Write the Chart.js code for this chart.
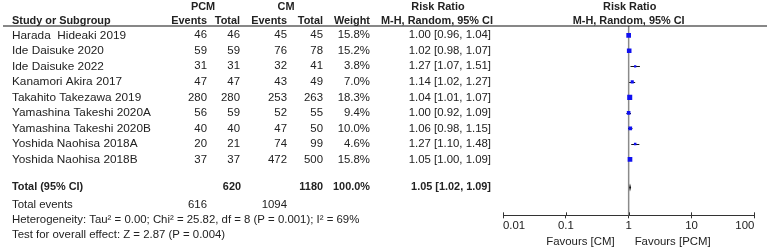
<!DOCTYPE html>
<html>
<head>
<meta charset="utf-8">
<script src="https://cdn.jsdelivr.net/npm/chart.js@4/dist/chart.umd.min.js"></script>
<style>
html,body{margin:0;padding:0;background:#fff;}
#wrap{position:relative;width:767px;height:250px;}
</style>
</head>
<body>
<div id="wrap"><canvas id="c"></canvas></div>
<script>
const studies = ["Harada  Hideaki 2019","Ide Daisuke 2020","Ide Daisuke 2022","Kanamori Akira 2017","Takahito Takezawa 2019","Yamashina Takeshi 2020A","Yamashina Takeshi 2020B","Yoshida Naohisa 2018A","Yoshida Naohisa 2018B"];
const pcmEvents = [46,59,31,47,280,56,40,20,37];
const pcmTotal  = [46,59,31,47,280,59,40,21,37];
const cmEvents  = [45,76,32,43,253,52,47,74,472];
const cmTotal   = [45,78,41,49,263,55,50,99,500];
const weights   = [15.8,15.2,3.8,7.0,18.3,9.4,10.0,4.6,15.8];
const riskRatio = [1.00,1.02,1.27,1.14,1.04,1.00,1.06,1.27,1.05];
const ciLow     = [0.96,0.98,1.07,1.02,1.01,0.92,0.98,1.10,1.00];
const ciHigh    = [1.04,1.07,1.51,1.27,1.07,1.09,1.15,1.48,1.09];
const pooled    = [1.05,1.02,1.09];          // estimate, low, high
const pooledTotals = [620,1180,100.0];        // PCM total, CM total, weight
const totalEvents  = [616,1094];              // PCM, CM
const heterogeneityText = "Heterogeneity: Tau\u00b2 = 0.00; Chi\u00b2 = 25.82, df = 8 (P = 0.001); I\u00b2 = 69%";
const overallText = "Test for overall effect: Z = 2.87 (P = 0.004)";
const xTicks = [0.01,0.1,1,10,100];
const favourLabels = ["Favours [CM]","Favours [PCM]"];

const FAM = '"Liberation Sans", Arial, sans-serif';
const NAME = '11.8px ' + FAM;
const REG = '11.4px ' + FAM;
const BOLD = 'bold 10.9px ' + FAM;
const TXT = '#222';
const TOTAL_ROW = 9.8;

function fmtCI(e,l,h){return e.toFixed(2)+" ["+l.toFixed(2)+", "+h.toFixed(2)+"]";}

const forestPlugin = {
  id:'forest',
  beforeDatasetsDraw(chart){
    const ctx = chart.ctx, xs = chart.scales.x, ys = chart.scales.y, a = chart.chartArea;
    ctx.save();
    const x1 = xs.getPixelForValue(1);
    ctx.strokeStyle = '#8a8a8a'; ctx.lineWidth = 1.5;
    ctx.beginPath(); ctx.moveTo(x1, a.top); ctx.lineTo(x1, a.bottom); ctx.stroke();
    ctx.strokeStyle = '#111'; ctx.lineWidth = 1;
    for(let i=0;i<studies.length;i++){
      const y = Math.round(ys.getPixelForValue(i))+0.5;
      ctx.beginPath();
      ctx.moveTo(xs.getPixelForValue(ciLow[i]), y);
      ctx.lineTo(xs.getPixelForValue(ciHigh[i]), y);
      ctx.stroke();
    }
    const yd = ys.getPixelForValue(TOTAL_ROW);
    ctx.fillStyle = '#111';
    ctx.beginPath();
    ctx.moveTo(xs.getPixelForValue(pooled[1]), yd);
    ctx.lineTo(xs.getPixelForValue(pooled[0]), yd-4);
    ctx.lineTo(xs.getPixelForValue(pooled[2]), yd);
    ctx.lineTo(xs.getPixelForValue(pooled[0]), yd+4);
    ctx.closePath(); ctx.fill();
    ctx.restore();
  },
  afterDraw(chart){
    const ctx = chart.ctx, xs = chart.scales.x, ys = chart.scales.y, a = chart.chartArea;
    ctx.save();
    ctx.strokeStyle = '#111'; ctx.lineWidth = 1.2;
    ctx.beginPath(); ctx.moveTo(3, a.top); ctx.lineTo(767, a.top); ctx.stroke();
    ctx.strokeStyle = '#333'; ctx.lineWidth = 1;
    xTicks.forEach(v=>{
      const x = Math.round(xs.getPixelForValue(v))+0.5;
      ctx.beginPath(); ctx.moveTo(x, a.bottom-3); ctx.lineTo(x, a.bottom); ctx.stroke();
    });
    ctx.fillStyle = TXT; ctx.textBaseline = 'middle';
    const put = (t,x,y,align,font)=>{ctx.font=font||REG; ctx.textAlign=align; ctx.fillText(t,x,y);};
    put("PCM",203,7,'center',BOLD);
    put("CM",286,7,'center',BOLD);
    put("Risk Ratio",438,7,'center',BOLD);
    put("Risk Ratio",xs.getPixelForValue(1)+1,7,'center',BOLD);
    put("Study or Subgroup",12,21,'left',BOLD);
    put("Events",207,21,'right',BOLD);
    put("Total",240,21,'right',BOLD);
    put("Events",287,21,'right',BOLD);
    put("Total",323,21,'right',BOLD);
    put("Weight",370,21,'right',BOLD);
    put("M-H, Random, 95% CI",437,21,'center',BOLD);
    put("M-H, Random, 95% CI",xs.getPixelForValue(1),21,'center',BOLD);
    for(let i=0;i<studies.length;i++){
      const y = ys.getPixelForValue(i);
      put(studies[i],12,y,'left',NAME);
      put(String(pcmEvents[i]),207,y,'right');
      put(String(pcmTotal[i]),240,y,'right');
      put(String(cmEvents[i]),287,y,'right');
      put(String(cmTotal[i]),323,y,'right');
      put(weights[i].toFixed(1)+"%",370,y,'right');
      put(fmtCI(riskRatio[i],ciLow[i],ciHigh[i]),491,y,'right');
    }
    const yt = ys.getPixelForValue(TOTAL_ROW);
    put("Total (95% CI)",12,yt,'left',BOLD);
    put(String(pooledTotals[0]),241,yt,'right',BOLD);
    put(String(pooledTotals[1]),323,yt,'right',BOLD);
    put(pooledTotals[2].toFixed(1)+"%",370,yt,'right',BOLD);
    put(fmtCI(pooled[0],pooled[1],pooled[2]),491,yt,'right',BOLD);
    put("Total events",12,205,'left');
    put(String(totalEvents[0]),207,205,'right');
    put(String(totalEvents[1]),287,205,'right');
    put(heterogeneityText,12,220,'left');
    put(overallText,12,235,'left');
    const xf = xs.getPixelForValue(1);
    put(favourLabels[0],xf-14,242,'right');
    put(favourLabels[1],xf+6,242,'left');
    ctx.restore();
  }
};

new Chart(document.getElementById('c'),{
  type:'scatter',
  data:{datasets:[{
    data: studies.map((s,i)=>({x:riskRatio[i],y:i})),
    pointStyle:'rect',
    pointRadius: weights.map(w=>0.83*Math.sqrt(w)),
    backgroundColor:'#1010f0',
    borderWidth:0
  }]},
  options:{
    responsive:true, maintainAspectRatio:false, animation:false,
    layout:{padding:{left:503,right:12.7,top:26,bottom:16}},
    plugins:{legend:{display:false},tooltip:{enabled:false}},
    scales:{
      x:{
        type:'logarithmic', min:0.01, max:100,
        afterBuildTicks(s){ s.ticks = xTicks.map(v=>({value:v})); },
        ticks:{
          align:'inner', padding:1, color:TXT, maxRotation:0, autoSkip:false,
          font:{family:FAM, size:11.4},
          callback:(v)=>String(v)
        },
        grid:{drawOnChartArea:false, drawTicks:true, tickLength:3, color:'#333'},
        border:{display:true, color:'#333', width:1}
      },
      y:{display:false, min:-0.6, max:11.6, reverse:true}
    }
  },
  plugins:[forestPlugin]
});
</script>
</body>
</html>
